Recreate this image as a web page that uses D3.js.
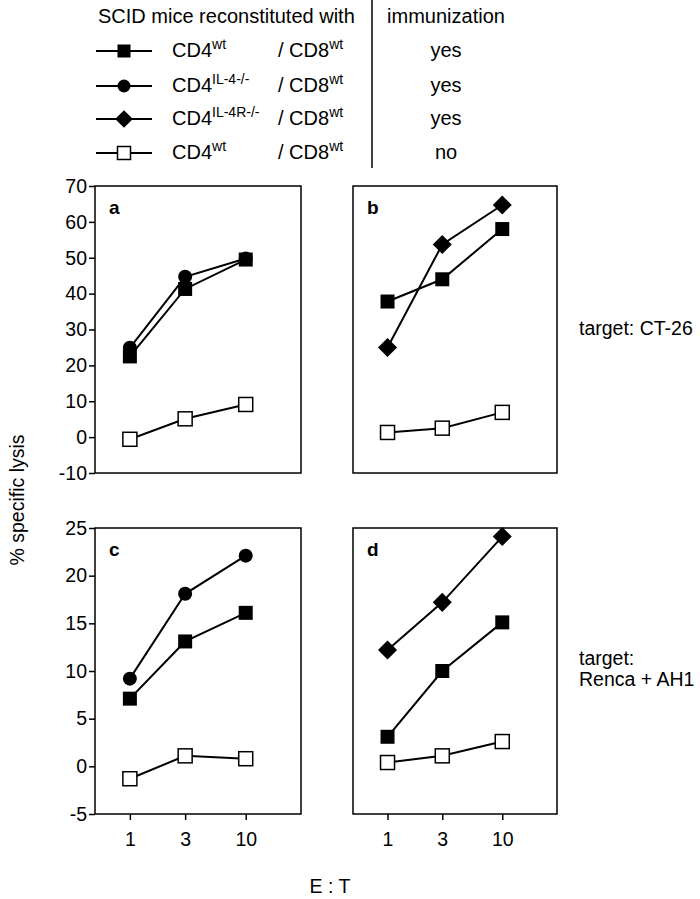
<!DOCTYPE html>
<html><head><meta charset="utf-8">
<script src="https://cdn.jsdelivr.net/npm/d3@7"></script>
<style>body{margin:0;background:#fff}svg{display:block}text{font-family:"Liberation Sans",Arial,sans-serif;fill:#000}</style>
</head><body>
<script>
// ---- data ----
const ratios = [1, 3, 10];
const seriesNames = ["CD4wt/CD8wt imm", "CD4IL-4-/-/CD8wt imm", "CD4IL-4R-/-/CD8wt imm", "CD4wt/CD8wt no imm"];
const legendSup = ["wt", "IL-4-/-", "IL-4R-/-", "wt"];
const legendImm = ["yes", "yes", "yes", "no"];
const panelA = { sq: [22.5, 41.3, 49.5], ci: [24.9, 44.7, 49.8], op: [-0.6, 5.1, 9.1] };
const panelB = { sq: [37.8, 44.0, 58.0], di: [25.0, 53.7, 64.7], op: [1.3, 2.5, 6.9] };
const panelC = { sq: [7.1, 13.1, 16.1], ci: [9.2, 18.1, 22.1], op: [-1.3, 1.1, 0.8] };
const panelD = { sq: [3.1, 10.0, 15.1], di: [12.2, 17.2, 24.1], op: [0.4, 1.1, 2.6] };
const yTicksTop = [-10, 0, 10, 20, 30, 40, 50, 60, 70];
const yTicksBottom = [-5, 0, 5, 10, 15, 20, 25];

const W = 700, H = 899;
const FONT = '"Liberation Sans",Arial,sans-serif';
const svg = d3.select("body").append("svg").attr("width", W).attr("height", H);

function marker(g, type, x, y, s) {
  if (type === "sq") g.append("rect").attr("x", x - s/2).attr("y", y - s/2).attr("width", s).attr("height", s).attr("fill", "#000");
  else if (type === "op") g.append("rect").attr("x", x - s/2).attr("y", y - s/2).attr("width", s).attr("height", s).attr("fill", "#fff").attr("stroke", "#000").attr("stroke-width", 1.5);
  else if (type === "ci") g.append("circle").attr("cx", x).attr("cy", y).attr("r", s/2).attr("fill", "#000");
  else if (type === "di") { const r = s * 0.68; g.append("path").attr("d", `M${x},${y-r}L${x+r},${y}L${x},${y+r}L${x-r},${y}Z`).attr("fill", "#000"); }
}

const fmt = d => String(d);

function panel(opts) {
  const { left, top, width, height, domain, ticks, data, label, yAxis, xAxis } = opts;
  const x = d3.scaleLog().domain([0.5, 30]).range([left, left + width]);
  const y = d3.scaleLinear().domain(domain).range([top + height, top]);
  const g = svg.append("g");
  g.append("rect").attr("x", left).attr("y", top).attr("width", width).attr("height", height)
    .attr("fill", "none").attr("stroke", "#000").attr("stroke-width", 1.5);
  if (yAxis) {
    const ax = g.append("g").attr("transform", `translate(${left},0)`)
      .call(d3.axisLeft(y).tickValues(ticks).tickFormat(fmt).tickSize(6).tickPadding(2));
    ax.select(".domain").remove();
    ax.selectAll("line").attr("stroke-width", 1.5);
    ax.selectAll("text").style("font-size", "19.5px").style("font-family", FONT);
  }
  if (xAxis) {
    const ax = g.append("g").attr("transform", `translate(0,${top + height})`)
      .call(d3.axisBottom(x).tickValues(ratios).tickFormat(fmt).tickSize(6).tickPadding(12));
    ax.select(".domain").remove();
    ax.selectAll("line").attr("stroke-width", 1.5);
    ax.selectAll("text").style("font-size", "19.5px").style("font-family", FONT);
  }
  g.append("text").attr("x", left + 14).attr("y", top + 28).attr("font-weight", "bold").attr("font-size", 19).text(label);
  const line = d3.line().x((d, i) => x(ratios[i])).y(d => y(d));
  const order = ["op", "sq", "ci", "di"];
  order.forEach(k => {
    if (!data[k]) return;
    g.append("path").attr("d", line(data[k])).attr("fill", "none").attr("stroke", "#000").attr("stroke-width", 2);
  });
  order.forEach(k => {
    if (!data[k]) return;
    data[k].forEach((v, i) => marker(g, k, x(ratios[i]), y(v), 14));
  });
}

panel({ left: 95, top: 186, width: 206, height: 287, domain: [-10, 70], ticks: yTicksTop, data: panelA, label: "a", yAxis: true, xAxis: false });
panel({ left: 353, top: 186, width: 204, height: 287, domain: [-10, 70], ticks: yTicksTop, data: panelB, label: "b", yAxis: false, xAxis: false });
panel({ left: 95, top: 528, width: 206, height: 286, domain: [-5, 25], ticks: yTicksBottom, data: panelC, label: "c", yAxis: true, xAxis: true });
panel({ left: 353, top: 528, width: 204, height: 286, domain: [-5, 25], ticks: yTicksBottom, data: panelD, label: "d", yAxis: false, xAxis: true });

// side labels
svg.append("text").attr("x", 579).attr("y", 335).attr("font-size", 19.5).text("target: CT-26");
svg.append("text").attr("x", 579).attr("y", 665).attr("font-size", 19.5).text("target:");
svg.append("text").attr("x", 579).attr("y", 686).attr("font-size", 19.5).text("Renca + AH1");
svg.append("text").attr("transform", "translate(24,500) rotate(-90)").attr("text-anchor", "middle").attr("font-size", 19.5).text("% specific lysis");
svg.append("text").attr("x", 330).attr("y", 893).attr("text-anchor", "middle").attr("font-size", 19.5).text("E : T");

// legend
const lg = svg.append("g");
lg.append("text").attr("x", 98).attr("y", 23).attr("font-size", 20).text("SCID mice reconstituted with");
lg.append("text").attr("x", 446).attr("y", 23).attr("text-anchor", "middle").attr("font-size", 20).text("immunization");
lg.append("line").attr("x1", 372).attr("x2", 372).attr("y1", 0).attr("y2", 168).attr("stroke", "#000").attr("stroke-width", 1.5);
const rowY = [51, 86, 119, 153];
const mk = ["sq", "ci", "di", "op"];
seriesNames.forEach((n, i) => {
  const yy = rowY[i];
  lg.append("line").attr("x1", 96).attr("x2", 152).attr("y1", yy).attr("y2", yy).attr("stroke", "#000").attr("stroke-width", 2);
  marker(lg, mk[i], 124, yy, 13);
  const t1 = lg.append("text").attr("x", 172).attr("y", yy + 6).attr("font-size", 20);
  t1.append("tspan").text("CD4");
  t1.append("tspan").attr("dy", -8).attr("font-size", 14).text(legendSup[i]);
  const t2 = lg.append("text").attr("x", 278).attr("y", yy + 6).attr("font-size", 20);
  t2.append("tspan").text("/ CD8");
  t2.append("tspan").attr("dy", -8).attr("font-size", 14).text("wt");
  lg.append("text").attr("x", 446).attr("y", yy + 6).attr("text-anchor", "middle").attr("font-size", 20).text(legendImm[i]);
});
</script>
</body></html>
